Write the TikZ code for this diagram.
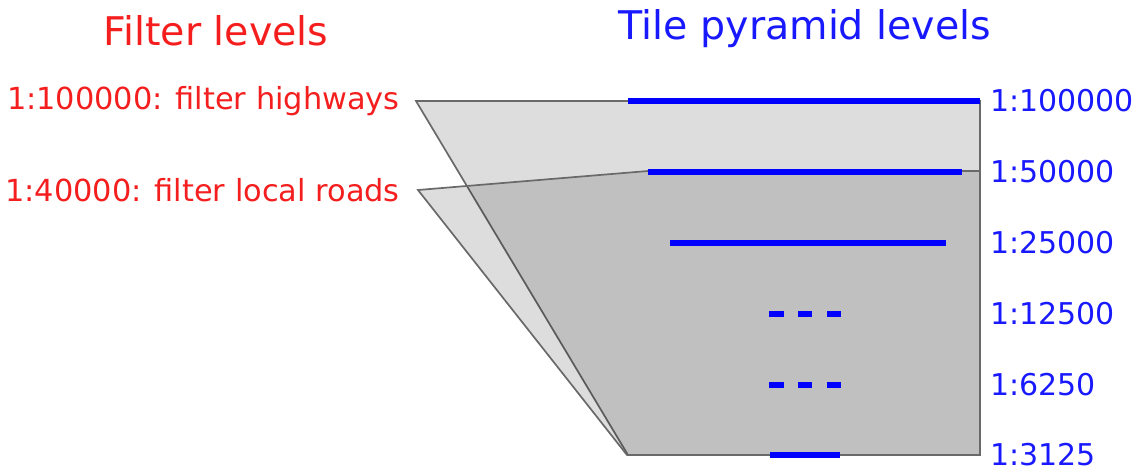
\documentclass[tikz,border=0pt]{standalone}
\usepackage{fontspec}
\setmainfont{DejaVu Sans}
\definecolor{fred}{RGB}{245,30,30}
\definecolor{tblue}{RGB}{25,25,255}
\definecolor{edgegray}{RGB}{105,105,105}
\begin{document}
\begin{tikzpicture}[x=1pt,y=-1pt,
  title/.style={font=\fontsize{39.5}{44}\selectfont, inner sep=0pt},
  flabel/.style={font=\fontsize{30.4}{34}\selectfont, text=fred, inner sep=0pt, anchor=east},
  tlabel/.style={font=\fontsize{30}{34}\selectfont, text=tblue, inner sep=0pt, anchor=west},
  level/.style={draw=edgegray, line width=1.7pt, fill=black, fill opacity=0.135, line join=miter},
  tile/.style={draw=blue, line width=6pt},
  dot/.style={draw=blue, line width=6pt}]
\useasboundingbox (0,0) rectangle (1136,472);

% titles
\node[title, text=fred] (ftitle) at (216,31) {Filter levels};
\node[title, text=tblue] (ttitle) at (805,29) {Tile pyramid levels};

% filter labels
\node[flabel] (f1) at (400,101) {1:100000: filter highways};
\node[flabel] (f2) at (400,190) {1:40000: filter local roads};

% tile labels
\node[tlabel] (t1) at (990,101) {1:100000};
\node[tlabel] (t2) at (990,172) {1:50000};
\node[tlabel] (t3) at (990,243) {1:25000};
\node[tlabel] (t4) at (990,314) {1:12500};
\node[tlabel] (t5) at (990,385) {1:6250};
\node[tlabel] (t6) at (990,455) {1:3125};

% polygon corners
\coordinate (a1) at (416,101);
\coordinate (a2) at (980,101);
\coordinate (a3) at (980,455);
\coordinate (a4) at (628,455);
\coordinate (b1) at (418,190);
\coordinate (b2) at (648,171);
\coordinate (b3) at (980,171);
\coordinate (b4) at (980,455);
\coordinate (b5) at (627,455);

\path[level] (a1) -- (a2) -- (a3) -- (a4) -- cycle;
\path[level] (b1) -- (b2) -- (b3) -- (b4) -- (b5) -- cycle;

% tile extents
\coordinate (l1a) at (628,101); \coordinate (l1b) at (980,101);
\coordinate (l2a) at (648,172); \coordinate (l2b) at (962,172);
\coordinate (l3a) at (670,243); \coordinate (l3b) at (946,243);
\coordinate (l6a) at (770,455); \coordinate (l6b) at (840,455);
\draw[tile] (l1a) -- (l1b);
\draw[tile] (l2a) -- (l2b);
\draw[tile] (l3a) -- (l3b);
\draw[tile] (l6a) -- (l6b);

\foreach \yy/\nm in {314/d4,385/d5}{
  \coordinate (\nm a) at (769,\yy); \coordinate (\nm b) at (784,\yy);
  \coordinate (\nm c) at (798,\yy); \coordinate (\nm d) at (812,\yy);
  \coordinate (\nm e) at (827,\yy); \coordinate (\nm f) at (841,\yy);
  \draw[dot] (\nm a) -- (\nm b);
  \draw[dot] (\nm c) -- (\nm d);
  \draw[dot] (\nm e) -- (\nm f);
}
\end{tikzpicture}
\end{document}
